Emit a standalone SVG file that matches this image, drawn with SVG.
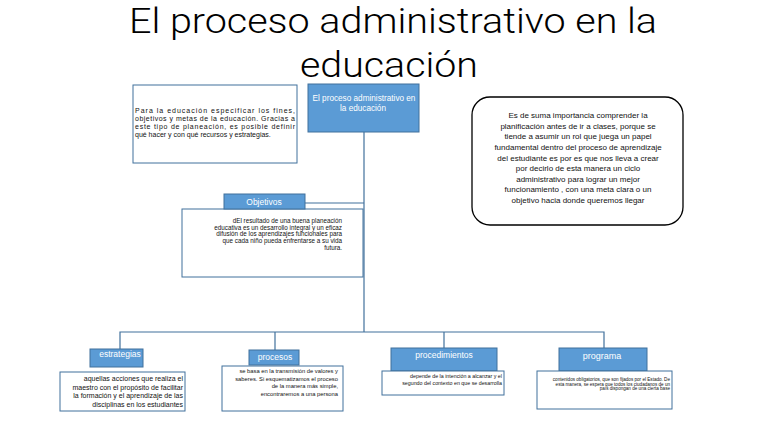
<svg xmlns="http://www.w3.org/2000/svg" width="768" height="432" viewBox="0 0 768 432">
<style>
.title{font-family:Roboto,"Liberation Sans",sans-serif;font-weight:300;font-size:35px;fill:#000;text-anchor:middle}
.blue{fill:#5B9BD5;stroke:#41719C;stroke-width:1}
.lbl{font-family:"Liberation Sans",sans-serif;fill:#fff;text-anchor:middle}
.tbox{fill:#fff;stroke:#41719C;stroke-width:1}
.txt{font-family:"Liberation Sans",sans-serif;fill:#111}
.end{text-anchor:end}
.mid{text-anchor:middle}
.conn{fill:none;stroke:#41719C;stroke-width:1.2}
</style>
<rect width="768" height="432" fill="#fff"/>
<g id="title">
<text class="title" x="393" y="33" textLength="528" lengthAdjust="spacingAndGlyphs">El proceso administrativo en la</text>
<text class="title" x="389" y="77" textLength="178" lengthAdjust="spacingAndGlyphs">educación</text>
</g>
<g id="connectors">
<path class="conn" d="M364,132 V332"/>
<path class="conn" d="M305,203 H364"/>
<path class="conn" d="M120,349 V332 H604 V348"/>
<path class="conn" d="M275,332 V350"/>
<path class="conn" d="M444,332 V348"/>
</g>
<g id="nota-izquierda">
<rect class="tbox" x="133" y="85" width="164" height="78"/>
<text class="txt" font-size="7" x="135" y="112.5" textLength="160" lengthAdjust="spacing">Para la educación especificar los fines,</text>
<text class="txt" font-size="7" x="135" y="121" textLength="160" lengthAdjust="spacing">objetivos y metas de la educación. Gracias a</text>
<text class="txt" font-size="7" x="135" y="129" textLength="160" lengthAdjust="spacing">este tipo de planeación, es posible definir</text>
<text class="txt" font-size="7" x="135" y="137">qué hacer y con qué recursos y estrategias.</text>
</g>
<g id="proceso-administrativo">
<rect class="blue" x="308" y="84" width="111" height="48"/>
<text class="lbl" font-size="8.2" x="364" y="101">El proceso administrativo en</text>
<text class="lbl" font-size="8.2" x="363" y="111">la educación</text>
</g>
<g id="nota-derecha">
<rect x="472" y="97" width="211" height="128" rx="18" ry="18" fill="#fff" stroke="#000" stroke-width="1.3"/>
<g class="txt mid" font-size="8">
<text x="578" y="118">Es de suma importancia comprender la</text>
<text x="578" y="128.5">planificación  antes de ir a clases, porque se</text>
<text x="578" y="139">tiende a asumir un rol que juega un papel</text>
<text x="578" y="150">fundamental dentro del proceso de aprendizaje</text>
<text x="578" y="160.5">del estudiante es por es que nos lleva a crear</text>
<text x="578" y="171">por decirlo de esta manera un ciclo</text>
<text x="578" y="181.5">administrativo para lograr un mejor</text>
<text x="578" y="192">funcionamiento , con una meta clara o un</text>
<text x="578" y="203">objetivo hacia donde queremos llegar</text>
</g>
</g>
<g id="objetivos">
<rect class="tbox" x="182" y="209" width="181" height="68"/>
<rect class="blue" x="224" y="194" width="81" height="15"/>
<text class="lbl" font-size="8.5" x="264" y="205">Objetivos</text>
<g class="txt end" font-size="6.3">
<text x="342" y="222.5">dEl resultado de una buena planeación</text>
<text x="342" y="229.5">educativa es un desarrollo integral y un eficaz</text>
<text x="342" y="236">difusión de los aprendizajes funcionales para</text>
<text x="342" y="242.5">que cada niño pueda enfrentarse a su vida</text>
<text x="342" y="249.5">futura.</text>
</g>
</g>
<g id="estrategias">
<rect class="blue" x="90" y="349" width="53" height="18"/>
<text class="lbl" font-size="8.5" x="120" y="357">estrategias</text>
<rect class="tbox" x="60" y="372" width="125" height="39"/>
<g class="txt end" font-size="7">
<text x="183" y="380.5">aquellas acciones que realiza el</text>
<text x="183" y="389.5">maestro con el propósito de facilitar</text>
<text x="183" y="398">la formación y el aprendizaje de las</text>
<text x="183" y="406.5">disciplinas en los estudiantes</text>
</g>
</g>
<g id="procesos">
<rect class="blue" x="249" y="350" width="50" height="15"/>
<text class="lbl" font-size="8.5" x="275" y="360">procesos</text>
<rect class="tbox" x="222" y="366" width="121" height="45"/>
<g class="txt end" font-size="5.8">
<text x="338" y="373">se basa en la transmisión de valores y</text>
<text x="338" y="380.5">saberes. Si esquematizamos el proceso</text>
<text x="338" y="388">de la manera más simple,</text>
<text x="338" y="395.5">encontraremos a una persona</text>
</g>
</g>
<g id="procedimientos">
<rect class="blue" x="391" y="348" width="106" height="23"/>
<text class="lbl" font-size="8.5" x="444" y="358">procedimientos</text>
<rect class="tbox" x="382" y="371" width="122" height="24"/>
<g class="txt end" font-size="5.3">
<text x="502" y="378">depende de la intención a alcanzar y el</text>
<text x="502" y="385">segundo del contexto en que se desarrolla</text>
</g>
</g>
<g id="programa">
<rect class="blue" x="559" y="348" width="88" height="23"/>
<text class="lbl" font-size="9" x="602" y="359">programa</text>
<rect class="tbox" x="537" y="371" width="135" height="38"/>
<g class="txt end" font-size="4.6">
<text x="670" y="381">contenidos obligatorios, que son fijados por el Estado. De</text>
<text x="670" y="385.5">esta manera, se espera que todos los ciudadanos de un</text>
<text x="670" y="390">país dispongan de una cierta base</text>
</g>
</g>
</svg>
